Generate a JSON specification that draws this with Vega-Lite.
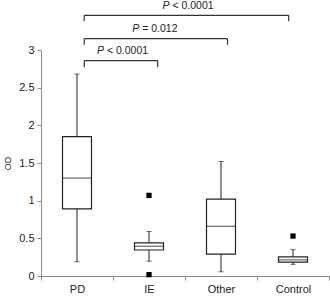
{
  "$schema": "https://vega.github.io/schema/vega-lite/v6.json",
  "width": 288,
  "height": 226,
  "autosize": {"type": "none"},
  "padding": {"left": 41, "top": 50, "right": 1, "bottom": 20},
  "config": {
    "view": {"stroke": null},
    "font": "Liberation Sans",
    "axis": {
      "domainColor": "#8c8c8c",
      "tickColor": "#8c8c8c",
      "tickSize": 4,
      "labelFontSize": 11,
      "labelColor": "#222222",
      "grid": false,
      "labelFont": "Liberation Sans",
      "titleFont": "Liberation Sans"
    },
    "axisY": {
      "titleFontSize": 9,
      "titleFontWeight": "normal",
      "titleColor": "#222222",
      "titlePadding": 6,
      "labelPadding": 3
    }
  },
  "datasets": {
    "boxes": [
      {"group": "PD", "lo": 0.19, "q1": 0.89, "med": 1.30, "q3": 1.85, "hi": 2.68},
      {"group": "IE", "lo": 0.196, "q1": 0.345, "med": 0.395, "q3": 0.44, "hi": 0.59},
      {"group": "Other", "lo": 0.056, "q1": 0.29, "med": 0.66, "q3": 1.02, "hi": 1.52},
      {"group": "Control", "lo": 0.155, "q1": 0.185, "med": 0.215, "q3": 0.255, "hi": 0.35}
    ],
    "outliers": [
      {"group": "IE", "value": 1.07},
      {"group": "IE", "value": 0.018},
      {"group": "Control", "value": 0.53}
    ],
    "brackets": [
      {"from": 0.6, "to": 1.62, "mid": 1.11, "y": 2.86, "tip": 2.77, "p": "P", "rest": "< 0.0001"},
      {"from": 0.6, "to": 2.59, "mid": 1.60, "y": 3.15, "tip": 3.07, "p": "P", "rest": "= 0.012"},
      {"from": 0.6, "to": 3.44, "mid": 2.02, "y": 3.46, "tip": 3.38, "p": "P", "rest": "< 0.0001"}
    ]
  },
  "layer": [
    {
      "data": {"name": "boxes"},
      "encoding": {
        "x": {
          "field": "group",
          "type": "nominal",
          "sort": ["PD", "IE", "Other", "Control"],
          "scale": {"paddingInner": 0, "paddingOuter": 0},
          "axis": {"title": null, "labelAngle": 0, "tickBand": "extent", "labelPadding": 3}
        }
      },
      "layer": [
        {
          "mark": {"type": "rule", "color": "#222222", "strokeWidth": 1},
          "encoding": {
            "y": {
              "field": "lo",
              "type": "quantitative",
              "title": "OD",
              "scale": {"domain": [0, 3], "nice": false, "zero": false},
              "axis": {"values": [0, 0.5, 1, 1.5, 2, 2.5, 3], "format": "~g"}
            },
            "y2": {"field": "hi"}
          }
        },
        {
          "mark": {"type": "tick", "color": "#222222", "size": 5, "thickness": 1},
          "encoding": {"y": {"field": "hi", "type": "quantitative", "title": "OD", "axis": {"values": [0, 0.5, 1, 1.5, 2, 2.5, 3], "format": "~g"}}}
        },
        {
          "mark": {"type": "tick", "color": "#222222", "size": 5, "thickness": 1},
          "encoding": {"y": {"field": "lo", "type": "quantitative", "title": "OD", "axis": {"values": [0, 0.5, 1, 1.5, 2, 2.5, 3], "format": "~g"}}}
        },
        {
          "mark": {"type": "bar", "fill": "white", "stroke": "#222222", "strokeWidth": 1.2, "size": 29},
          "encoding": {
            "y": {"field": "q1", "type": "quantitative", "title": "OD", "axis": {"values": [0, 0.5, 1, 1.5, 2, 2.5, 3], "format": "~g"}},
            "y2": {"field": "q3"}
          }
        },
        {
          "mark": {"type": "tick", "color": "#222222", "size": 29, "thickness": 1.2},
          "encoding": {"y": {"field": "med", "type": "quantitative", "title": "OD", "axis": {"values": [0, 0.5, 1, 1.5, 2, 2.5, 3], "format": "~g"}}}
        },
        {
          "data": {"name": "outliers"},
          "mark": {"type": "point", "shape": "square", "filled": true, "color": "#000000", "size": 28, "opacity": 1},
          "encoding": {
            "y": {"field": "value", "type": "quantitative", "title": "OD", "axis": {"values": [0, 0.5, 1, 1.5, 2, 2.5, 3], "format": "~g"}}
          }
        }
      ]
    },
    {
      "data": {"name": "brackets"},
      "layer": [
        {
          "mark": {"type": "rule", "color": "#333333", "strokeWidth": 1.2},
          "encoding": {
            "x": {"field": "from", "type": "quantitative", "scale": {"domain": [0, 4], "nice": false, "zero": false}, "axis": null},
            "x2": {"field": "to"},
            "y": {"field": "y", "type": "quantitative", "title": "OD", "axis": {"values": [0, 0.5, 1, 1.5, 2, 2.5, 3], "format": "~g"}}
          }
        },
        {
          "mark": {"type": "rule", "color": "#333333", "strokeWidth": 1.2},
          "encoding": {
            "x": {"field": "from", "type": "quantitative", "axis": null},
            "y": {"field": "y", "type": "quantitative", "title": "OD", "axis": {"values": [0, 0.5, 1, 1.5, 2, 2.5, 3], "format": "~g"}},
            "y2": {"field": "tip"}
          }
        },
        {
          "mark": {"type": "rule", "color": "#333333", "strokeWidth": 1.2},
          "encoding": {
            "x": {"field": "to", "type": "quantitative", "axis": null},
            "y": {"field": "y", "type": "quantitative", "title": "OD", "axis": {"values": [0, 0.5, 1, 1.5, 2, 2.5, 3], "format": "~g"}},
            "y2": {"field": "tip"}
          }
        },
        {
          "mark": {"type": "text", "align": "right", "baseline": "alphabetic", "dx": -17, "dy": -6.5, "fontSize": 10.5, "fontStyle": "italic", "color": "#222222"},
          "encoding": {
            "x": {"field": "mid", "type": "quantitative", "axis": null},
            "y": {"field": "y", "type": "quantitative", "title": "OD", "axis": {"values": [0, 0.5, 1, 1.5, 2, 2.5, 3], "format": "~g"}},
            "text": {"field": "p"}
          }
        },
        {
          "mark": {"type": "text", "align": "left", "baseline": "alphabetic", "dx": -14, "dy": -6.5, "fontSize": 10.5, "color": "#222222"},
          "encoding": {
            "x": {"field": "mid", "type": "quantitative", "axis": null},
            "y": {"field": "y", "type": "quantitative", "title": "OD", "axis": {"values": [0, 0.5, 1, 1.5, 2, 2.5, 3], "format": "~g"}},
            "text": {"field": "rest"}
          }
        }
      ]
    }
  ],
  "resolve": {"scale": {"x": "independent"}, "axis": {"x": "independent"}}
}
